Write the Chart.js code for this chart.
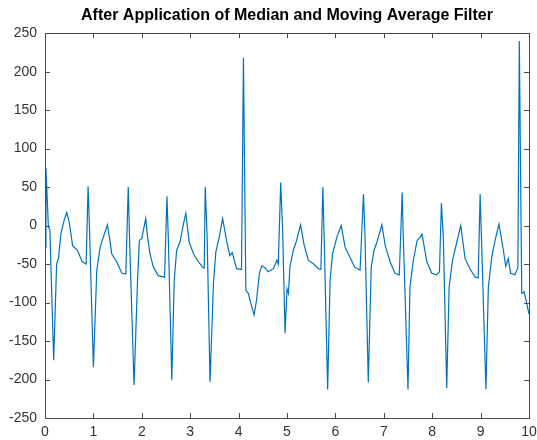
<!DOCTYPE html>
<html>
<head>
<meta charset="utf-8">
<script src="https://cdn.jsdelivr.net/npm/chart.js@4/dist/chart.umd.min.js"></script>
<style>
  html, body { margin: 0; padding: 0; background: #fff; }
  #wrap { width: 537px; height: 440px; }
</style>
</head>
<body>
<div id="wrap"><canvas id="ecgChart"></canvas></div>
<script>
// time (s) and filtered signal
var time = [
  0, 0.02, 0.07, 0.1, 0.18, 0.24, 0.28, 0.33, 0.4, 0.45, 0.5, 0.57, 0.67, 0.77, 0.85,
  0.89, 0.92, 1.0, 1.07, 1.14, 1.21, 1.29, 1.33, 1.38, 1.48, 1.59, 1.67,
  1.72, 1.75, 1.84, 1.91, 1.95, 2.0, 2.08, 2.12, 2.17, 2.24, 2.34, 2.47,
  2.52, 2.55, 2.62, 2.67, 2.72, 2.79, 2.86, 2.91, 2.98, 3.07, 3.17, 3.26, 3.29,
  3.31, 3.35, 3.41, 3.48, 3.53, 3.6, 3.67, 3.76, 3.82, 3.87, 3.91, 3.96, 4.06,
  4.1, 4.15, 4.2, 4.27, 4.32, 4.37, 4.43, 4.48, 4.55, 4.61, 4.72, 4.79, 4.82,
  4.87, 4.91, 4.96, 5.0, 5.03, 5.06, 5.13, 5.2, 5.28, 5.35, 5.44, 5.55, 5.65, 5.7,
  5.74, 5.77, 5.84, 5.89, 5.94, 6.03, 6.12, 6.2, 6.3, 6.4, 6.51,
  6.58, 6.61, 6.68, 6.74, 6.8, 6.87, 6.96, 7.03, 7.13, 7.23, 7.32,
  7.38, 7.4, 7.5, 7.54, 7.61, 7.69, 7.75, 7.79, 7.89, 7.99, 8.09, 8.15,
  8.19, 8.23, 8.3, 8.35, 8.42, 8.51, 8.59, 8.68, 8.78, 8.89, 8.95,
  8.99, 9.02, 9.11, 9.16, 9.23, 9.3, 9.38, 9.47, 9.52, 9.57, 9.62, 9.71, 9.77,
  9.8, 9.85, 9.9, 9.94, 10
];
var signal = [
  -28, 75, -2, -5, -175, -50, -42, -10, 8, 17, 5, -26, -32, -47, -50,
  51, -6, -184, -58, -28, -14, 1, -15, -37, -47, -62, -63,
  50, -24, -207, -75, -19, -17, 9, -15, -37, -54, -65, -67,
  38, -21, -201, -71, -32, -21, 2, 16, -22, -37, -47, -54, -55,
  50, -15, -203, -75, -34, -15, 9, -22, -39, -35, -45, -56, -57,
  218, -84, -88, -105, -116, -97, -62, -52, -55, -60, -56, -45, -50,
  56, -6, -140, -82, -88, -54, -32, -19, 1, -24, -45, -50, -56, -57,
  50, -21, -213, -71, -37, -15, 0, -28, -41, -54, -58,
  41, -11, -204, -54, -32, -19, 1, -26, -47, -62, -64,
  43, -10, -213, -80, -45, -19, -15, -11, -47, -62, -64, -60,
  29, -15, -211, -80, -45, -21, 0, -43, -56, -67, -68,
  41, -20, -213, -80, -41, -19, 2, -32, -53, -43, -62, -64, -55,
  240, -88, -86, -97, -115
];
var xTicks = [0, 1, 2, 3, 4, 5, 6, 7, 8, 9, 10];
var yTicks = [-250, -200, -150, -100, -50, 0, 50, 100, 150, 200, 250];

var points = time.map(function (t, i) {
  return { x: t, y: signal[i] };
});

// matlab style box with inward ticks on all four sides
var boxTicks = {
  id: 'boxTicks',
  afterDraw: function (chart) {
    var ctx = chart.ctx;
    var a = chart.chartArea;
    var xs = chart.scales.x;
    var ys = chart.scales.y;
    var len = 5;
    ctx.save();
    ctx.strokeStyle = '#4a4a4a';
    ctx.lineWidth = 1;
    ctx.beginPath();
    xTicks.forEach(function (v) {
      var px = Math.round(xs.getPixelForValue(v)) + 0.5;
      ctx.moveTo(px, a.bottom);
      ctx.lineTo(px, a.bottom - len);
      ctx.moveTo(px, a.top);
      ctx.lineTo(px, a.top + len);
    });
    yTicks.forEach(function (v) {
      var py = Math.round(ys.getPixelForValue(v)) + 0.5;
      ctx.moveTo(a.left, py);
      ctx.lineTo(a.left + len, py);
      ctx.moveTo(a.right, py);
      ctx.lineTo(a.right - len, py);
    });
    ctx.stroke();
    ctx.strokeRect(Math.round(a.left) + 0.5, Math.round(a.top) + 0.5,
      Math.round(a.right - a.left), Math.round(a.bottom - a.top));
    ctx.restore();
  }
};

var ctx = document.getElementById('ecgChart').getContext('2d');
new Chart(ctx, {
  type: 'line',
  data: {
    datasets: [{
      data: points,
      borderColor: '#0072BD',
      borderWidth: 1.2,
      pointRadius: 0,
      fill: false,
      tension: 0
    }]
  },
  options: {
    responsive: true,
    maintainAspectRatio: false,
    animation: false,
    layout: { padding: { left: 0, right: 0, top: 0, bottom: 0 } },
    plugins: {
      legend: { display: false },
      tooltip: { enabled: false },
      title: {
        display: true,
        fullSize: false,
        text: 'After Application of Median and Moving Average Filter',
        color: '#000',
        font: { family: 'Liberation Sans, Arial, sans-serif', size: 16, weight: 'bold' },
        padding: { top: 6, bottom: 8 }
      }
    },
    scales: {
      x: {
        type: 'linear',
        min: 0,
        max: 10,
        afterBuildTicks: function (s) {
          s.ticks = xTicks.map(function (v) { return { value: v }; });
        },
        afterFit: function (s) {
          s.height = 22;
          s.paddingRight = 8;
        },
        grid: { display: false, drawTicks: false },
        border: { display: false },
        ticks: {
          padding: 6,
          maxRotation: 0,
          color: '#333',
          font: { family: 'Liberation Sans, Arial, sans-serif', size: 14 }
        }
      },
      y: {
        min: -250,
        max: 250,
        afterBuildTicks: function (s) {
          s.ticks = yTicks.map(function (v) { return { value: v }; });
        },
        afterFit: function (s) { s.width = 45; },
        grid: { display: false, drawTicks: false },
        border: { display: false },
        ticks: {
          padding: 8,
          color: '#333',
          font: { family: 'Liberation Sans, Arial, sans-serif', size: 14 }
        }
      }
    }
  },
  plugins: [boxTicks]
});
</script>
</body>
</html>
